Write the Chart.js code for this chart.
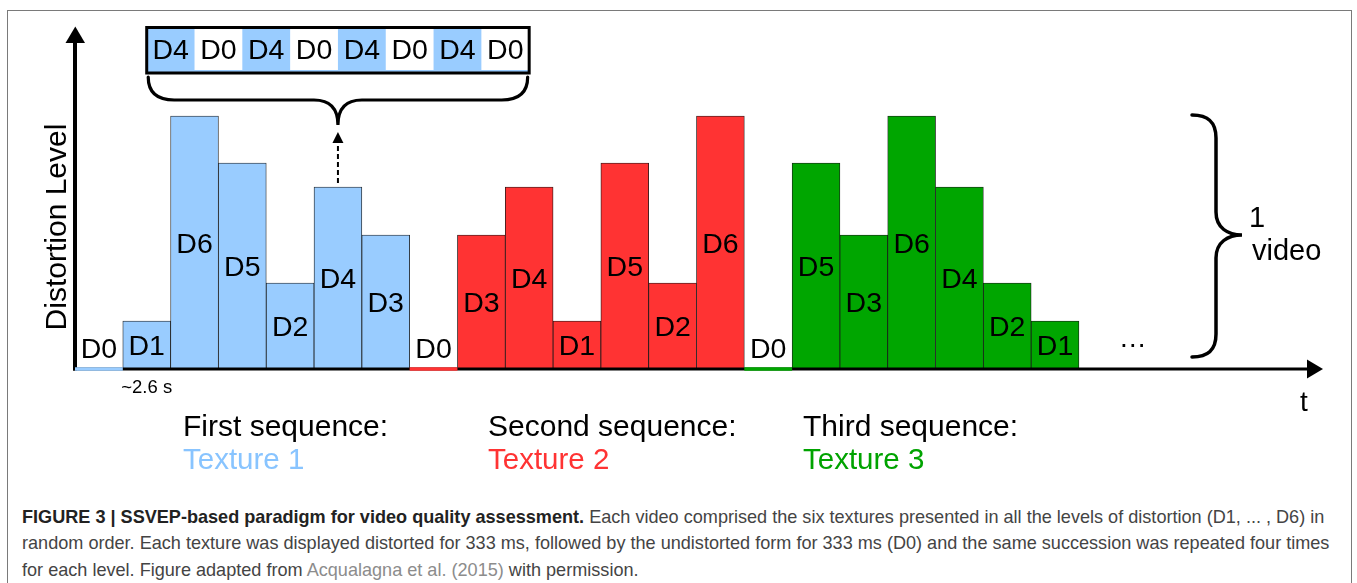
<!DOCTYPE html>
<html><head><meta charset="utf-8">
<script src="https://cdn.jsdelivr.net/npm/chart.js@4.4.1/dist/chart.umd.min.js"></script>
<style>
html,body{margin:0;padding:0;background:#fff;}
body{width:1357px;height:583px;position:relative;overflow:hidden;font-family:"Liberation Sans",Arial,sans-serif;}
#frame{position:absolute;left:7px;top:10px;width:1345px;height:620px;border:1px solid #7a7a7a;box-sizing:border-box;}
#chart{position:absolute;left:0;top:0;}
#caption{position:absolute;left:22px;top:504px;font-size:16.5px;line-height:26.5px;color:#444;white-space:nowrap;}
#caption b{color:#222;}
#caption .ref{color:#8c8c8c;}
</style></head><body>
<div id="frame"></div>
<canvas id="chart" width="1357" height="495"></canvas>
<div id="caption"><span id="l1"><b>FIGURE 3 | SSVEP-based paradigm for video quality assessment.</b> Each video comprised the six textures presented in all the levels of distortion (D1, ... , D6) in</span><br><span id="l2">random order. Each texture was displayed distorted for 333 ms, followed by the undistorted form for 333 ms (D0) and the same succession was repeated four times</span><br><span id="l3">for each level. Figure adapted from <span class="ref">Acqualagna et al. (2015)</span> with permission.</span></div>
<script>
// ---- data ----
const categories = ['D0','D1','D6','D5','D2','D4','D3','D0','D3','D4','D1','D5','D2','D6','D0','D5','D3','D6','D4','D2','D1','','','','',''];
const texture1 = [0, 48, 253, 206, 86, 182, 134];
const texture2 = [0, 134, 182, 48, 206, 86, 253];
const texture3 = [0, 206, 134, 253, 182, 86, 48];
const sequenceTitles = ['First sequence:', 'Second sequence:', 'Third sequence:'];
const textureNames = ['Texture 1', 'Texture 2', 'Texture 3'];
const zoomCells = ['D4','D0','D4','D0','D4','D0','D4','D0'];
const yAxisTitle = 'Distortion Level';
const durationLabel = '~2.6 s';
const videoLabel = ['1', 'video'];
const xAxisTitle = 't';

// ---- styles ----
const seriesColors = ['#99CCFF', '#FF3333', '#00A600'];
const textureTextColors = ['#88C4FF', '#FF3333', '#00A300'];
const FONT = '"Liberation Sans", Arial, sans-serif';

function place(values, offset) {
  const arr = new Array(categories.length).fill(null);
  values.forEach((v, i) => { arr[offset + i] = v; });
  return arr;
}

const overlay = {
  id: 'overlay',
  afterDatasetsDraw(chart) {
    const ctx = chart.ctx;
    const ca = chart.chartArea;
    const xs = chart.scales.x, ys = chart.scales.y;
    const bw = xs.getPixelForValue(1) - xs.getPixelForValue(0);
    const base = ys.getPixelForValue(0);
    ctx.save();
    ctx.fillStyle = '#000'; ctx.strokeStyle = '#000';

    // y axis
    ctx.lineWidth = 4;
    ctx.beginPath(); ctx.moveTo(ca.left, base + 1.5); ctx.lineTo(ca.left, ca.top + 14); ctx.stroke();
    ctx.beginPath(); ctx.moveTo(ca.left - 9.5, ca.top + 16); ctx.lineTo(ca.left + 10, ca.top + 16); ctx.lineTo(ca.left + 0.3, ca.top - 0.5); ctx.closePath(); ctx.fill();
    // x axis
    ctx.lineWidth = 3;
    ctx.beginPath(); ctx.moveTo(ca.left - 2, base); ctx.lineTo(ca.right - 8, base); ctx.stroke();
    ctx.beginPath(); ctx.moveTo(ca.right - 11, base - 9.5); ctx.lineTo(ca.right - 11, base + 9.5); ctx.lineTo(ca.right + 5, base); ctx.closePath(); ctx.fill();

    // D0 segments + bar labels
    chart.data.datasets.forEach((ds, di) => {
      const meta = chart.getDatasetMeta(di);
      meta.data.forEach((el, i) => {
        const v = ds.data[i];
        if (v === null || v === undefined) return;
        if (v === 0) {
          ctx.strokeStyle = seriesColors[di]; ctx.lineWidth = 3.5;
          ctx.beginPath(); ctx.moveTo(el.x - bw / 2, base); ctx.lineTo(el.x + bw / 2, base); ctx.stroke();
        }
        ctx.fillStyle = '#000';
        ctx.font = '28.5px ' + FONT;
        ctx.textAlign = 'center'; ctx.textBaseline = 'alphabetic';
        const cy = v > 0 ? (el.y + el.base) / 2 : base - 21;
        ctx.fillText(categories[i], el.x, cy + 10);
      });
    });

    // y axis title
    ctx.save();
    ctx.translate(ca.left - 9, 227);
    ctx.rotate(-Math.PI / 2);
    ctx.font = '30px ' + FONT; ctx.textAlign = 'center'; ctx.fillStyle = '#000';
    ctx.fillText(yAxisTitle, 0, 0);
    ctx.restore();

    // t
    ctx.font = '28px ' + FONT; ctx.textAlign = 'left'; ctx.fillStyle = '#000';
    ctx.fillText(xAxisTitle, 1300, 411);

    // ellipsis
    ctx.textAlign = 'center';
    ctx.fillText('\u2026', (xs.getPixelForValue(21) + xs.getPixelForValue(22)) / 2 + 6, 347);

    // ~2.6 s
    ctx.font = '18.5px ' + FONT;
    ctx.fillText(durationLabel, xs.getPixelForValue(1), 393);

    // zoomed box
    const bx = xs.getPixelForValue(1), topY = 28, botY = 73;
    zoomCells.forEach((c, i) => {
      const x0 = bx + i * bw;
      if (i % 2 === 0) { ctx.fillStyle = seriesColors[0]; ctx.fillRect(x0, topY, bw, botY - topY); }
    });
    ctx.fillStyle = seriesColors[0];
    ctx.fillRect(bx, botY - 3, bw * zoomCells.length, 2);
    ctx.lineWidth = 3; ctx.strokeStyle = '#000';
    ctx.strokeRect(bx, topY - 0.5, bw * zoomCells.length, botY - topY + 0.5);
    ctx.fillStyle = '#000'; ctx.font = '28.5px ' + FONT; ctx.textAlign = 'center';
    zoomCells.forEach((c, i) => { ctx.fillText(c, bx + (i + 0.5) * bw, 58.5); });

    // horizontal brace
    const xL = bx + 1.5, xR = bx + bw * zoomCells.length - 1.5, xm = xs.getPixelForValue(5);
    const yT = 77, yM = 100, yTip = 125;
    ctx.lineWidth = 3.2; ctx.lineCap = 'round';
    ctx.beginPath();
    ctx.moveTo(xL, yT); ctx.quadraticCurveTo(xL, yM, xL + 26, yM); ctx.lineTo(xm - 24, yM);
    ctx.quadraticCurveTo(xm, yM, xm, yTip);
    ctx.quadraticCurveTo(xm, yM, xm + 24, yM); ctx.lineTo(xR - 26, yM);
    ctx.quadraticCurveTo(xR, yM, xR, yT);
    ctx.stroke();

    // dashed arrow
    ctx.lineWidth = 2; ctx.lineCap = 'butt';
    ctx.setLineDash([5, 3]);
    ctx.beginPath(); ctx.moveTo(xm, 183); ctx.lineTo(xm, 143); ctx.stroke();
    ctx.setLineDash([]);
    ctx.beginPath(); ctx.moveTo(xm - 5.5, 143); ctx.lineTo(xm + 5.5, 143); ctx.lineTo(xm, 132); ctx.closePath(); ctx.fill();

    // vertical brace
    ctx.lineWidth = 3.5; ctx.lineCap = 'round';
    ctx.beginPath();
    ctx.moveTo(1192, 115);
    ctx.bezierCurveTo(1208, 115, 1216, 122, 1216, 138);
    ctx.lineTo(1216, 212);
    ctx.bezierCurveTo(1216, 228, 1228, 235, 1242, 235);
    ctx.bezierCurveTo(1228, 235, 1216, 242, 1216, 258);
    ctx.lineTo(1216, 334);
    ctx.bezierCurveTo(1216, 350, 1208, 357, 1192, 357);
    ctx.stroke();
    ctx.font = '29px ' + FONT; ctx.textAlign = 'left'; ctx.fillStyle = '#000';
    ctx.fillText(videoLabel[0], 1249, 227);
    ctx.fillText(videoLabel[1], 1252, 260);

    // sequence texts
    const seqX = [183, 488, 803];
    sequenceTitles.forEach((t, i) => {
      ctx.textAlign = 'left';
      ctx.font = '30px ' + FONT;
      ctx.fillStyle = '#000';
      ctx.fillText(t, seqX[i], 436);
      ctx.font = '29.5px ' + FONT;
      ctx.fillStyle = textureTextColors[i];
      ctx.fillText(textureNames[i], seqX[i], 469);
    });
    ctx.restore();
  }
};

new Chart(document.getElementById('chart'), {
  type: 'bar',
  data: {
    labels: categories,
    datasets: [
      { data: place(texture1, 0), backgroundColor: seriesColors[0] },
      { data: place(texture2, 7), backgroundColor: seriesColors[1] },
      { data: place(texture3, 14), backgroundColor: seriesColors[2] }
    ]
  },
  options: {
    responsive: false,
    animation: false,
    devicePixelRatio: 1,
    layout: { padding: { left: 75, right: 39, top: 27, bottom: 495 - 369 } },
    datasets: { bar: { barPercentage: 1, categoryPercentage: 1, grouped: false,
      borderColor: '#1a1a1a', borderSkipped: 'start',
      borderWidth: (c) => (c.raw === 0 ? 0 : 0.8) } },
    scales: {
      x: { display: false },
      y: { display: false, min: 0, max: 342 }
    },
    plugins: { legend: { display: false }, tooltip: { enabled: false } }
  },
  plugins: [overlay]
});

// caption fitting
(function () {
  const cap = document.getElementById('caption');
  const l2 = document.getElementById('l2');
  const w = l2.getBoundingClientRect().width;
  const f = 16.5 * 1308 / w;
  cap.style.fontSize = f.toFixed(2) + 'px';
  const lh = 26.5;
  cap.style.top = (523 - ((lh - f * 1.117) / 2 + f * 0.905)).toFixed(1) + 'px';
})();
</script>
</body></html>
